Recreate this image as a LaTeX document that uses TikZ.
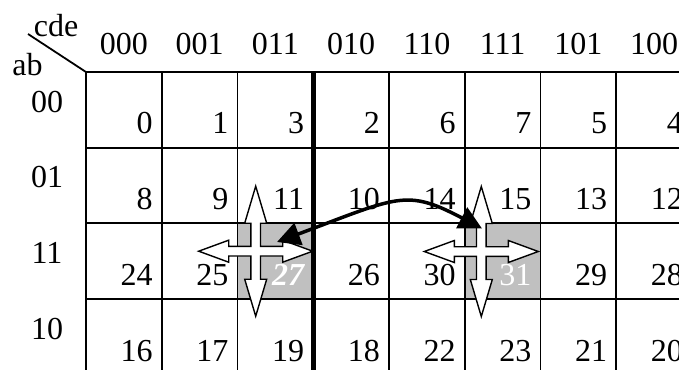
\documentclass[tikz,border=0pt]{standalone}
\usepackage{fontspec}
\setmainfont{Liberation Serif}
\usetikzlibrary{arrows.meta}
\definecolor{cellgray}{RGB}{192,192,192}
\newcommand\kmapcross{(0,-65) -- (11,-28) -- (4.8,-28) -- (4.8,-4.8) -- (27,-4.8) -- (27,-11) -- (57,0) -- (27,11) -- (27,4.8) -- (4.8,4.8) -- (4.8,28) -- (11,28) -- (0,65) -- (-11,28) -- (-4.8,28) -- (-4.8,4.8) -- (-27,4.8) -- (-27,11) -- (-57,0) -- (-27,-11) -- (-27,-4.8) -- (-4.8,-4.8) -- (-4.8,-28) -- (-11,-28) -- cycle}
\begin{document}
\begin{tikzpicture}[x=1pt,y=-1pt,
  font=\fontsize{32}{38}\selectfont,
  gridline/.style={line width=1.8pt},
  thickline/.style={line width=4.5pt},
  lbl/.style={inner sep=0pt, anchor=base},
  num/.style={inner sep=0pt, anchor=base east},
  crossarrow/.style={draw, fill=white, line width=1.4pt, line join=miter},
  link/.style={line width=3.5pt, {Triangle[length=23pt,width=23pt]}-{Triangle[length=23pt,width=23pt]}}]
\useasboundingbox (0,0) rectangle (679,369);
\clip (0,0) rectangle (679,369);
% shaded cells
\fill[cellgray] (237.5,223.3) rectangle (313.25,299);
\fill[cellgray] (464.75,223.3) rectangle (540.5,299);
% grid
\draw[gridline] (28,34) -- (86,72);
\foreach \r in {0,1,2,3} {
  \draw[gridline] (86,{72+75.67*\r}) -- (700,{72+75.67*\r});
}
\foreach \c in {0,1,2,4,5,6,7,8} {
  \draw[gridline] ({86+75.75*\c},72) -- ({86+75.75*\c},380);
}
\draw[thickline] (313.25,71) -- (313.25,380);
% header labels
\node[lbl] (cde) at (56,36.7) {cde};
\node[lbl] (ab) at (27.5,75) {ab};
\foreach \t [count=\i from 0] in {000,001,011,010,110,111,101,100} {
  \node[lbl] (col\i) at ({123.9+75.75*\i},55) {\t};
}
\foreach \t [count=\i from 0] in {00,01,11,10} {
  \node[lbl] (row\i) at (47,{112+75.67*\i}) {\t};
}
% cell numbers
\foreach \v [count=\i from 0] in {0,1,3,2,6,7,5,4} {
  \node[num] (n\v) at ({161.75+75.75*\i-9},133.5) {\v};
}
\foreach \v [count=\i from 0] in {8,9,11,10,14,15,13,12} {
  \node[num] (n\v) at ({161.75+75.75*\i-9},209.5) {\v};
}
\foreach \v/\i in {24/0,25/1,26/3,30/4,29/6,28/7} {
  \node[num] (n\v) at ({161.75+75.75*\i-9},285) {\v};
}
\node[num, text=white, font=\fontsize{32}{38}\selectfont\bfseries\itshape] (n27) at (313.25-9,285) {27};
\node[num, text=white] (n31) at (540.5-9,285) {31};
\foreach \v [count=\i from 0] in {16,17,19,18,22,23,21,20} {
  \node[num] (n\v) at ({161.75+75.75*\i-9},361) {\v};
}
% cross arrows
\draw[crossarrow, shift={(255.7,251.2)}] \kmapcross;
\draw[crossarrow, shift={(481.3,251.5)}] \kmapcross;
% curved double arrow
\coordinate (tipA) at (277,242);
\coordinate (tipB) at (482,228.5);
\draw[link] (tipA) .. controls (398.8,196.5) and (405.7,188.3) .. (tipB);
\end{tikzpicture}
\end{document}
